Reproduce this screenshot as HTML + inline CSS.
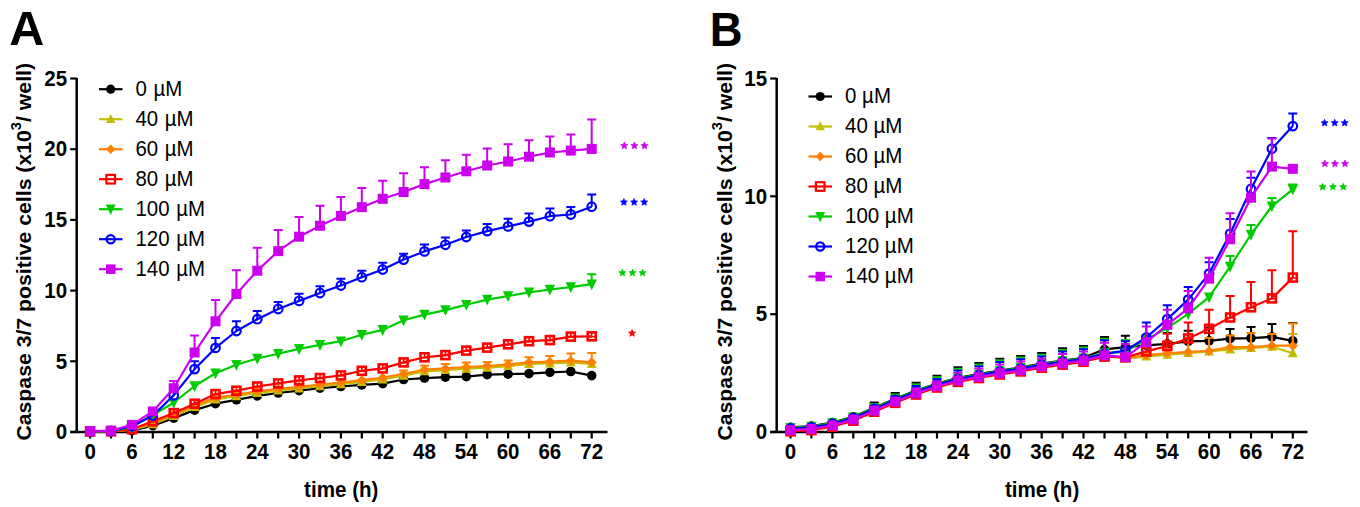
<!DOCTYPE html>
<html><head><meta charset="utf-8"><style>
html,body{margin:0;padding:0;background:#fff;}
body{width:1360px;height:507px;overflow:hidden;}
svg{display:block;}
text{font-family:"Liberation Sans",sans-serif;}
.tk{font-size:20.5px;font-weight:bold;}
.lg{font-size:20.3px;}
.ttl{font-size:20.6px;font-weight:bold;}
.big{font-size:47px;font-weight:bold;}
.ast{font-size:24px;}
</style></head><body>
<svg width="1360" height="507" viewBox="0 0 1360 507">
<path d="M76.7 78.0V433.0" stroke="#000" stroke-width="2.5" fill="none"/>
<path d="M70.2 432.0H607.5" stroke="#000" stroke-width="2.5" fill="none"/>
<path d="M70.2 432.0H76.7" stroke="#000" stroke-width="2.2"/>
<text transform="translate(67.10 439.20) scale(1 1.06)" class="tk" text-anchor="end">0</text>
<path d="M70.2 361.3H76.7" stroke="#000" stroke-width="2.2"/>
<text transform="translate(67.10 368.50) scale(1 1.06)" class="tk" text-anchor="end">5</text>
<path d="M70.2 290.6H76.7" stroke="#000" stroke-width="2.2"/>
<text transform="translate(67.10 297.80) scale(1 1.06)" class="tk" text-anchor="end">10</text>
<path d="M70.2 219.9H76.7" stroke="#000" stroke-width="2.2"/>
<text transform="translate(67.10 227.10) scale(1 1.06)" class="tk" text-anchor="end">15</text>
<path d="M70.2 149.2H76.7" stroke="#000" stroke-width="2.2"/>
<text transform="translate(67.10 156.40) scale(1 1.06)" class="tk" text-anchor="end">20</text>
<path d="M70.2 78.5H76.7" stroke="#000" stroke-width="2.2"/>
<text transform="translate(67.10 85.70) scale(1 1.06)" class="tk" text-anchor="end">25</text>
<path d="M90.1 432.0V438.5" stroke="#000" stroke-width="2.2"/>
<text transform="translate(90.10 459.30) scale(1 1.06)" class="tk" text-anchor="middle">0</text>
<path d="M111.0 432.0V438.5" stroke="#000" stroke-width="2.2"/>
<path d="M131.9 432.0V438.5" stroke="#000" stroke-width="2.2"/>
<text transform="translate(131.90 459.30) scale(1 1.06)" class="tk" text-anchor="middle">6</text>
<path d="M152.8 432.0V438.5" stroke="#000" stroke-width="2.2"/>
<path d="M173.7 432.0V438.5" stroke="#000" stroke-width="2.2"/>
<text transform="translate(173.69 459.30) scale(1 1.06)" class="tk" text-anchor="middle">12</text>
<path d="M194.6 432.0V438.5" stroke="#000" stroke-width="2.2"/>
<path d="M215.5 432.0V438.5" stroke="#000" stroke-width="2.2"/>
<text transform="translate(215.49 459.30) scale(1 1.06)" class="tk" text-anchor="middle">18</text>
<path d="M236.4 432.0V438.5" stroke="#000" stroke-width="2.2"/>
<path d="M257.3 432.0V438.5" stroke="#000" stroke-width="2.2"/>
<text transform="translate(257.28 459.30) scale(1 1.06)" class="tk" text-anchor="middle">24</text>
<path d="M278.2 432.0V438.5" stroke="#000" stroke-width="2.2"/>
<path d="M299.1 432.0V438.5" stroke="#000" stroke-width="2.2"/>
<text transform="translate(299.08 459.30) scale(1 1.06)" class="tk" text-anchor="middle">30</text>
<path d="M320.0 432.0V438.5" stroke="#000" stroke-width="2.2"/>
<path d="M340.9 432.0V438.5" stroke="#000" stroke-width="2.2"/>
<text transform="translate(340.88 459.30) scale(1 1.06)" class="tk" text-anchor="middle">36</text>
<path d="M361.8 432.0V438.5" stroke="#000" stroke-width="2.2"/>
<path d="M382.7 432.0V438.5" stroke="#000" stroke-width="2.2"/>
<text transform="translate(382.67 459.30) scale(1 1.06)" class="tk" text-anchor="middle">42</text>
<path d="M403.6 432.0V438.5" stroke="#000" stroke-width="2.2"/>
<path d="M424.5 432.0V438.5" stroke="#000" stroke-width="2.2"/>
<text transform="translate(424.47 459.30) scale(1 1.06)" class="tk" text-anchor="middle">48</text>
<path d="M445.4 432.0V438.5" stroke="#000" stroke-width="2.2"/>
<path d="M466.3 432.0V438.5" stroke="#000" stroke-width="2.2"/>
<text transform="translate(466.26 459.30) scale(1 1.06)" class="tk" text-anchor="middle">54</text>
<path d="M487.2 432.0V438.5" stroke="#000" stroke-width="2.2"/>
<path d="M508.1 432.0V438.5" stroke="#000" stroke-width="2.2"/>
<text transform="translate(508.06 459.30) scale(1 1.06)" class="tk" text-anchor="middle">60</text>
<path d="M529.0 432.0V438.5" stroke="#000" stroke-width="2.2"/>
<path d="M549.9 432.0V438.5" stroke="#000" stroke-width="2.2"/>
<text transform="translate(549.86 459.30) scale(1 1.06)" class="tk" text-anchor="middle">66</text>
<path d="M570.8 432.0V438.5" stroke="#000" stroke-width="2.2"/>
<path d="M591.7 432.0V438.5" stroke="#000" stroke-width="2.2"/>
<text transform="translate(591.65 459.30) scale(1 1.06)" class="tk" text-anchor="middle">72</text>
<g><polyline points="90.1,431.7 111.0,431.6 131.9,430.6 152.8,425.6 173.7,418.1 194.6,410.1 215.5,403.7 236.4,399.8 257.3,395.9 278.2,393.0 299.1,390.6 320.0,388.2 340.9,386.5 361.8,384.9 382.7,383.6 403.6,379.5 424.5,378.1 445.4,377.1 466.3,376.6 487.2,374.7 508.1,374.2 529.0,373.6 549.9,372.3 570.8,371.5 591.7,375.6" fill="none" stroke="#000000" stroke-width="2.2" stroke-linejoin="round"/><circle cx="90.1" cy="431.7" r="4.8" fill="#000000"/><circle cx="111.0" cy="431.6" r="4.8" fill="#000000"/><circle cx="131.9" cy="430.6" r="4.8" fill="#000000"/><circle cx="152.8" cy="425.6" r="4.8" fill="#000000"/><circle cx="173.7" cy="418.1" r="4.8" fill="#000000"/><circle cx="194.6" cy="410.1" r="4.8" fill="#000000"/><circle cx="215.5" cy="403.7" r="4.8" fill="#000000"/><circle cx="236.4" cy="399.8" r="4.8" fill="#000000"/><circle cx="257.3" cy="395.9" r="4.8" fill="#000000"/><circle cx="278.2" cy="393.0" r="4.8" fill="#000000"/><circle cx="299.1" cy="390.6" r="4.8" fill="#000000"/><circle cx="320.0" cy="388.2" r="4.8" fill="#000000"/><circle cx="340.9" cy="386.5" r="4.8" fill="#000000"/><circle cx="361.8" cy="384.9" r="4.8" fill="#000000"/><circle cx="382.7" cy="383.6" r="4.8" fill="#000000"/><circle cx="403.6" cy="379.5" r="4.8" fill="#000000"/><circle cx="424.5" cy="378.1" r="4.8" fill="#000000"/><circle cx="445.4" cy="377.1" r="4.8" fill="#000000"/><circle cx="466.3" cy="376.6" r="4.8" fill="#000000"/><circle cx="487.2" cy="374.7" r="4.8" fill="#000000"/><circle cx="508.1" cy="374.2" r="4.8" fill="#000000"/><circle cx="529.0" cy="373.6" r="4.8" fill="#000000"/><circle cx="549.9" cy="372.3" r="4.8" fill="#000000"/><circle cx="570.8" cy="371.5" r="4.8" fill="#000000"/><circle cx="591.7" cy="375.6" r="4.8" fill="#000000"/></g>
<g><polyline points="90.1,431.7 111.0,431.5 131.9,429.9 152.8,424.2 173.7,416.0 194.6,407.1 215.5,399.5 236.4,396.2 257.3,393.0 278.2,390.6 299.1,388.4 320.0,386.2 340.9,384.2 361.8,381.9 382.7,379.4 403.6,375.7 424.5,371.3 445.4,370.1 466.3,368.7 487.2,367.7 508.1,366.1 529.0,364.0 549.9,363.4 570.8,362.4 591.7,364.0" fill="none" stroke="#c0c000" stroke-width="2.2" stroke-linejoin="round"/><path d="M90.1 426.2L95.1 435.7L85.1 435.7Z" fill="#c0c000"/><path d="M111.0 426.0L116.0 435.5L106.0 435.5Z" fill="#c0c000"/><path d="M131.9 424.4L136.9 433.9L126.9 433.9Z" fill="#c0c000"/><path d="M152.8 418.7L157.8 428.2L147.8 428.2Z" fill="#c0c000"/><path d="M173.7 410.5L178.7 420.0L168.7 420.0Z" fill="#c0c000"/><path d="M194.6 401.6L199.6 411.1L189.6 411.1Z" fill="#c0c000"/><path d="M215.5 394.0L220.5 403.5L210.5 403.5Z" fill="#c0c000"/><path d="M236.4 390.7L241.4 400.2L231.4 400.2Z" fill="#c0c000"/><path d="M257.3 387.5L262.3 397.0L252.3 397.0Z" fill="#c0c000"/><path d="M278.2 385.1L283.2 394.6L273.2 394.6Z" fill="#c0c000"/><path d="M299.1 382.9L304.1 392.4L294.1 392.4Z" fill="#c0c000"/><path d="M320.0 380.7L325.0 390.2L315.0 390.2Z" fill="#c0c000"/><path d="M340.9 378.7L345.9 388.2L335.9 388.2Z" fill="#c0c000"/><path d="M361.8 376.4L366.8 385.9L356.8 385.9Z" fill="#c0c000"/><path d="M382.7 373.9L387.7 383.4L377.7 383.4Z" fill="#c0c000"/><path d="M403.6 370.2L408.6 379.7L398.6 379.7Z" fill="#c0c000"/><path d="M424.5 365.8L429.5 375.3L419.5 375.3Z" fill="#c0c000"/><path d="M445.4 364.6L450.4 374.1L440.4 374.1Z" fill="#c0c000"/><path d="M466.3 363.2L471.3 372.7L461.3 372.7Z" fill="#c0c000"/><path d="M487.2 362.2L492.2 371.7L482.2 371.7Z" fill="#c0c000"/><path d="M508.1 360.6L513.1 370.1L503.1 370.1Z" fill="#c0c000"/><path d="M529.0 358.5L534.0 368.0L524.0 368.0Z" fill="#c0c000"/><path d="M549.9 357.9L554.9 367.4L544.9 367.4Z" fill="#c0c000"/><path d="M570.8 356.9L575.8 366.4L565.8 366.4Z" fill="#c0c000"/><path d="M591.7 358.5L596.7 368.0L586.7 368.0Z" fill="#c0c000"/></g>
<g><path d="M508.1 364.4V360.5M503.6 360.5H512.6" stroke="#ff8000" stroke-width="2" fill="none"/><path d="M529.0 362.3V357.3M524.5 357.3H533.5" stroke="#ff8000" stroke-width="2" fill="none"/><path d="M549.9 361.7V356.1M545.4 356.1H554.4" stroke="#ff8000" stroke-width="2" fill="none"/><path d="M570.8 360.7V353.5M566.3 353.5H575.3" stroke="#ff8000" stroke-width="2" fill="none"/><path d="M591.7 362.3V353.1M587.2 353.1H596.2" stroke="#ff8000" stroke-width="2" fill="none"/><path d="M466.3 367.0V362.4M461.8 362.4H470.8" stroke="#ff8000" stroke-width="2" fill="none"/><path d="M487.2 366.0V362.0M482.7 362.0H491.7" stroke="#ff8000" stroke-width="2" fill="none"/><path d="M445.4 368.4V364.1M440.9 364.1H449.9" stroke="#ff8000" stroke-width="2" fill="none"/><path d="M424.5 369.6V365.5M420.0 365.5H429.0" stroke="#ff8000" stroke-width="2" fill="none"/><path d="M403.6 374.0V370.5M399.1 370.5H408.1" stroke="#ff8000" stroke-width="2" fill="none"/><polyline points="90.1,431.7 111.0,431.4 131.9,429.2 152.8,423.2 173.7,414.3 194.6,405.4 215.5,397.8 236.4,394.5 257.3,391.3 278.2,388.9 299.1,386.8 320.0,384.5 340.9,382.5 361.8,380.2 382.7,377.7 403.6,374.0 424.5,369.6 445.4,368.4 466.3,367.0 487.2,366.0 508.1,364.4 529.0,362.3 549.9,361.7 570.8,360.7 591.7,362.3" fill="none" stroke="#ff8000" stroke-width="2.2" stroke-linejoin="round"/><path d="M90.1 426.7L95.1 431.7L90.1 436.7L85.1 431.7Z" fill="#ff8000"/><path d="M111.0 426.4L116.0 431.4L111.0 436.4L106.0 431.4Z" fill="#ff8000"/><path d="M131.9 424.2L136.9 429.2L131.9 434.2L126.9 429.2Z" fill="#ff8000"/><path d="M152.8 418.2L157.8 423.2L152.8 428.2L147.8 423.2Z" fill="#ff8000"/><path d="M173.7 409.3L178.7 414.3L173.7 419.3L168.7 414.3Z" fill="#ff8000"/><path d="M194.6 400.4L199.6 405.4L194.6 410.4L189.6 405.4Z" fill="#ff8000"/><path d="M215.5 392.8L220.5 397.8L215.5 402.8L210.5 397.8Z" fill="#ff8000"/><path d="M236.4 389.5L241.4 394.5L236.4 399.5L231.4 394.5Z" fill="#ff8000"/><path d="M257.3 386.3L262.3 391.3L257.3 396.3L252.3 391.3Z" fill="#ff8000"/><path d="M278.2 383.9L283.2 388.9L278.2 393.9L273.2 388.9Z" fill="#ff8000"/><path d="M299.1 381.8L304.1 386.8L299.1 391.8L294.1 386.8Z" fill="#ff8000"/><path d="M320.0 379.5L325.0 384.5L320.0 389.5L315.0 384.5Z" fill="#ff8000"/><path d="M340.9 377.5L345.9 382.5L340.9 387.5L335.9 382.5Z" fill="#ff8000"/><path d="M361.8 375.2L366.8 380.2L361.8 385.2L356.8 380.2Z" fill="#ff8000"/><path d="M382.7 372.7L387.7 377.7L382.7 382.7L377.7 377.7Z" fill="#ff8000"/><path d="M403.6 369.0L408.6 374.0L403.6 379.0L398.6 374.0Z" fill="#ff8000"/><path d="M424.5 364.6L429.5 369.6L424.5 374.6L419.5 369.6Z" fill="#ff8000"/><path d="M445.4 363.4L450.4 368.4L445.4 373.4L440.4 368.4Z" fill="#ff8000"/><path d="M466.3 362.0L471.3 367.0L466.3 372.0L461.3 367.0Z" fill="#ff8000"/><path d="M487.2 361.0L492.2 366.0L487.2 371.0L482.2 366.0Z" fill="#ff8000"/><path d="M508.1 359.4L513.1 364.4L508.1 369.4L503.1 364.4Z" fill="#ff8000"/><path d="M529.0 357.3L534.0 362.3L529.0 367.3L524.0 362.3Z" fill="#ff8000"/><path d="M549.9 356.7L554.9 361.7L549.9 366.7L544.9 361.7Z" fill="#ff8000"/><path d="M570.8 355.7L575.8 360.7L570.8 365.7L565.8 360.7Z" fill="#ff8000"/><path d="M591.7 357.3L596.7 362.3L591.7 367.3L586.7 362.3Z" fill="#ff8000"/></g>
<g><polyline points="90.1,431.6 111.0,431.3 131.9,429.2 152.8,421.3 173.7,413.1 194.6,403.7 215.5,394.1 236.4,390.7 257.3,386.5 278.2,383.4 299.1,380.4 320.0,378.0 340.9,375.4 361.8,370.8 382.7,368.4 403.6,362.4 424.5,357.3 445.4,355.1 466.3,350.6 487.2,347.6 508.1,344.3 529.0,341.2 549.9,340.1 570.8,336.6 591.7,336.3" fill="none" stroke="#ff0000" stroke-width="2.2" stroke-linejoin="round"/><rect x="86.1" y="427.6" width="8.0" height="8.0" fill="none" stroke="#ff0000" stroke-width="2.6"/><path d="M90.1 427.6V432.0M86.1 432.0H94.1" stroke="#ff0000" stroke-width="1.6"/><rect x="107.0" y="427.3" width="8.0" height="8.0" fill="none" stroke="#ff0000" stroke-width="2.6"/><path d="M111.0 427.3V431.7M107.0 431.7H115.0" stroke="#ff0000" stroke-width="1.6"/><rect x="127.9" y="425.2" width="8.0" height="8.0" fill="none" stroke="#ff0000" stroke-width="2.6"/><path d="M131.9 425.2V429.6M127.9 429.6H135.9" stroke="#ff0000" stroke-width="1.6"/><rect x="148.8" y="417.3" width="8.0" height="8.0" fill="none" stroke="#ff0000" stroke-width="2.6"/><path d="M152.8 417.3V421.7M148.8 421.7H156.8" stroke="#ff0000" stroke-width="1.6"/><rect x="169.7" y="409.1" width="8.0" height="8.0" fill="none" stroke="#ff0000" stroke-width="2.6"/><path d="M173.7 409.1V413.5M169.7 413.5H177.7" stroke="#ff0000" stroke-width="1.6"/><rect x="190.6" y="399.7" width="8.0" height="8.0" fill="none" stroke="#ff0000" stroke-width="2.6"/><path d="M194.6 399.7V404.1M190.6 404.1H198.6" stroke="#ff0000" stroke-width="1.6"/><rect x="211.5" y="390.1" width="8.0" height="8.0" fill="none" stroke="#ff0000" stroke-width="2.6"/><path d="M215.5 390.1V394.5M211.5 394.5H219.5" stroke="#ff0000" stroke-width="1.6"/><rect x="232.4" y="386.7" width="8.0" height="8.0" fill="none" stroke="#ff0000" stroke-width="2.6"/><path d="M236.4 386.7V391.1M232.4 391.1H240.4" stroke="#ff0000" stroke-width="1.6"/><rect x="253.3" y="382.5" width="8.0" height="8.0" fill="none" stroke="#ff0000" stroke-width="2.6"/><path d="M257.3 382.5V386.9M253.3 386.9H261.3" stroke="#ff0000" stroke-width="1.6"/><rect x="274.2" y="379.4" width="8.0" height="8.0" fill="none" stroke="#ff0000" stroke-width="2.6"/><path d="M278.2 379.4V383.8M274.2 383.8H282.2" stroke="#ff0000" stroke-width="1.6"/><rect x="295.1" y="376.4" width="8.0" height="8.0" fill="none" stroke="#ff0000" stroke-width="2.6"/><path d="M299.1 376.4V380.8M295.1 380.8H303.1" stroke="#ff0000" stroke-width="1.6"/><rect x="316.0" y="374.0" width="8.0" height="8.0" fill="none" stroke="#ff0000" stroke-width="2.6"/><path d="M320.0 374.0V378.4M316.0 378.4H324.0" stroke="#ff0000" stroke-width="1.6"/><rect x="336.9" y="371.4" width="8.0" height="8.0" fill="none" stroke="#ff0000" stroke-width="2.6"/><path d="M340.9 371.4V375.8M336.9 375.8H344.9" stroke="#ff0000" stroke-width="1.6"/><rect x="357.8" y="366.8" width="8.0" height="8.0" fill="none" stroke="#ff0000" stroke-width="2.6"/><path d="M361.8 366.8V371.2M357.8 371.2H365.8" stroke="#ff0000" stroke-width="1.6"/><rect x="378.7" y="364.4" width="8.0" height="8.0" fill="none" stroke="#ff0000" stroke-width="2.6"/><path d="M382.7 364.4V368.8M378.7 368.8H386.7" stroke="#ff0000" stroke-width="1.6"/><rect x="399.6" y="358.4" width="8.0" height="8.0" fill="none" stroke="#ff0000" stroke-width="2.6"/><path d="M403.6 358.4V362.8M399.6 362.8H407.6" stroke="#ff0000" stroke-width="1.6"/><rect x="420.5" y="353.3" width="8.0" height="8.0" fill="none" stroke="#ff0000" stroke-width="2.6"/><path d="M424.5 353.3V357.7M420.5 357.7H428.5" stroke="#ff0000" stroke-width="1.6"/><rect x="441.4" y="351.1" width="8.0" height="8.0" fill="none" stroke="#ff0000" stroke-width="2.6"/><path d="M445.4 351.1V355.5M441.4 355.5H449.4" stroke="#ff0000" stroke-width="1.6"/><rect x="462.3" y="346.6" width="8.0" height="8.0" fill="none" stroke="#ff0000" stroke-width="2.6"/><path d="M466.3 346.6V351.0M462.3 351.0H470.3" stroke="#ff0000" stroke-width="1.6"/><rect x="483.2" y="343.6" width="8.0" height="8.0" fill="none" stroke="#ff0000" stroke-width="2.6"/><path d="M487.2 343.6V348.0M483.2 348.0H491.2" stroke="#ff0000" stroke-width="1.6"/><rect x="504.1" y="340.3" width="8.0" height="8.0" fill="none" stroke="#ff0000" stroke-width="2.6"/><path d="M508.1 340.3V344.7M504.1 344.7H512.1" stroke="#ff0000" stroke-width="1.6"/><rect x="525.0" y="337.2" width="8.0" height="8.0" fill="none" stroke="#ff0000" stroke-width="2.6"/><path d="M529.0 337.2V341.6M525.0 341.6H533.0" stroke="#ff0000" stroke-width="1.6"/><rect x="545.9" y="336.1" width="8.0" height="8.0" fill="none" stroke="#ff0000" stroke-width="2.6"/><path d="M549.9 336.1V340.5M545.9 340.5H553.9" stroke="#ff0000" stroke-width="1.6"/><rect x="566.8" y="332.6" width="8.0" height="8.0" fill="none" stroke="#ff0000" stroke-width="2.6"/><path d="M570.8 332.6V337.0M566.8 337.0H574.8" stroke="#ff0000" stroke-width="1.6"/><rect x="587.7" y="332.3" width="8.0" height="8.0" fill="none" stroke="#ff0000" stroke-width="2.6"/><path d="M591.7 332.3V336.7M587.7 336.7H595.7" stroke="#ff0000" stroke-width="1.6"/></g>
<g><path d="M591.7 284.2V274.2M587.2 274.2H596.2" stroke="#00cc00" stroke-width="2" fill="none"/><polyline points="90.1,431.3 111.0,430.9 131.9,427.1 152.8,415.0 173.7,402.7 194.6,386.0 215.5,373.3 236.4,364.7 257.3,358.5 278.2,353.7 299.1,348.9 320.0,344.9 340.9,341.2 361.8,334.7 382.7,329.9 403.6,320.3 424.5,314.6 445.4,310.1 466.3,304.7 487.2,299.6 508.1,296.0 529.0,292.3 549.9,289.5 570.8,287.1 591.7,284.2" fill="none" stroke="#00cc00" stroke-width="2.2" stroke-linejoin="round"/><path d="M84.9 426.5L95.3 426.5L90.1 437.3Z" fill="#00cc00"/><path d="M105.8 426.1L116.2 426.1L111.0 436.9Z" fill="#00cc00"/><path d="M126.7 422.3L137.1 422.3L131.9 433.1Z" fill="#00cc00"/><path d="M147.6 410.2L158.0 410.2L152.8 421.0Z" fill="#00cc00"/><path d="M168.5 397.9L178.9 397.9L173.7 408.7Z" fill="#00cc00"/><path d="M189.4 381.2L199.8 381.2L194.6 392.0Z" fill="#00cc00"/><path d="M210.3 368.5L220.7 368.5L215.5 379.3Z" fill="#00cc00"/><path d="M231.2 359.9L241.6 359.9L236.4 370.7Z" fill="#00cc00"/><path d="M252.1 353.7L262.5 353.7L257.3 364.5Z" fill="#00cc00"/><path d="M273.0 348.9L283.4 348.9L278.2 359.7Z" fill="#00cc00"/><path d="M293.9 344.1L304.3 344.1L299.1 354.9Z" fill="#00cc00"/><path d="M314.8 340.1L325.2 340.1L320.0 350.9Z" fill="#00cc00"/><path d="M335.7 336.4L346.1 336.4L340.9 347.2Z" fill="#00cc00"/><path d="M356.6 329.9L367.0 329.9L361.8 340.7Z" fill="#00cc00"/><path d="M377.5 325.1L387.9 325.1L382.7 335.9Z" fill="#00cc00"/><path d="M398.4 315.5L408.8 315.5L403.6 326.3Z" fill="#00cc00"/><path d="M419.3 309.8L429.7 309.8L424.5 320.6Z" fill="#00cc00"/><path d="M440.2 305.3L450.6 305.3L445.4 316.1Z" fill="#00cc00"/><path d="M461.1 299.9L471.5 299.9L466.3 310.7Z" fill="#00cc00"/><path d="M482.0 294.8L492.4 294.8L487.2 305.6Z" fill="#00cc00"/><path d="M502.9 291.2L513.3 291.2L508.1 302.0Z" fill="#00cc00"/><path d="M523.8 287.5L534.2 287.5L529.0 298.3Z" fill="#00cc00"/><path d="M544.7 284.7L555.1 284.7L549.9 295.5Z" fill="#00cc00"/><path d="M565.6 282.3L576.0 282.3L570.8 293.1Z" fill="#00cc00"/><path d="M586.5 279.4L596.9 279.4L591.7 290.2Z" fill="#00cc00"/></g>
<g><path d="M173.7 395.4V390.3M169.2 390.3H178.2" stroke="#0000ff" stroke-width="2" fill="none"/><path d="M194.6 369.1V361.3M190.1 361.3H199.1" stroke="#0000ff" stroke-width="2" fill="none"/><path d="M215.5 347.9V338.1M211.0 338.1H220.0" stroke="#0000ff" stroke-width="2" fill="none"/><path d="M236.4 331.0V321.3M231.9 321.3H240.9" stroke="#0000ff" stroke-width="2" fill="none"/><path d="M257.3 319.2V311.1M252.8 311.1H261.8" stroke="#0000ff" stroke-width="2" fill="none"/><path d="M278.2 309.0V301.9M273.7 301.9H282.7" stroke="#0000ff" stroke-width="2" fill="none"/><path d="M299.1 300.9V293.7M294.6 293.7H303.6" stroke="#0000ff" stroke-width="2" fill="none"/><path d="M320.0 293.0V286.2M315.5 286.2H324.5" stroke="#0000ff" stroke-width="2" fill="none"/><path d="M340.9 285.5V278.7M336.4 278.7H345.4" stroke="#0000ff" stroke-width="2" fill="none"/><path d="M361.8 277.2V270.8M357.3 270.8H366.3" stroke="#0000ff" stroke-width="2" fill="none"/><path d="M382.7 269.5V262.7M378.2 262.7H387.2" stroke="#0000ff" stroke-width="2" fill="none"/><path d="M403.6 259.6V253.7M399.1 253.7H408.1" stroke="#0000ff" stroke-width="2" fill="none"/><path d="M424.5 251.4V244.5M420.0 244.5H429.0" stroke="#0000ff" stroke-width="2" fill="none"/><path d="M445.4 244.8V237.6M440.9 237.6H449.9" stroke="#0000ff" stroke-width="2" fill="none"/><path d="M466.3 237.0V230.4M461.8 230.4H470.8" stroke="#0000ff" stroke-width="2" fill="none"/><path d="M487.2 231.1V224.0M482.7 224.0H491.7" stroke="#0000ff" stroke-width="2" fill="none"/><path d="M508.1 226.4V218.8M503.6 218.8H512.6" stroke="#0000ff" stroke-width="2" fill="none"/><path d="M529.0 221.6V213.4M524.5 213.4H533.5" stroke="#0000ff" stroke-width="2" fill="none"/><path d="M549.9 216.2V208.6M545.4 208.6H554.4" stroke="#0000ff" stroke-width="2" fill="none"/><path d="M570.8 214.5V207.0M566.3 207.0H575.3" stroke="#0000ff" stroke-width="2" fill="none"/><path d="M591.7 206.7V194.4M587.2 194.4H596.2" stroke="#0000ff" stroke-width="2" fill="none"/><polyline points="90.1,431.3 111.0,430.9 131.9,426.3 152.8,415.5 173.7,395.4 194.6,369.1 215.5,347.9 236.4,331.0 257.3,319.2 278.2,309.0 299.1,300.9 320.0,293.0 340.9,285.5 361.8,277.2 382.7,269.5 403.6,259.6 424.5,251.4 445.4,244.8 466.3,237.0 487.2,231.1 508.1,226.4 529.0,221.6 549.9,216.2 570.8,214.5 591.7,206.7" fill="none" stroke="#0000ff" stroke-width="2.2" stroke-linejoin="round"/><circle cx="90.1" cy="431.3" r="4.3" fill="none" stroke="#0000ff" stroke-width="2.2"/><circle cx="111.0" cy="430.9" r="4.3" fill="none" stroke="#0000ff" stroke-width="2.2"/><circle cx="131.9" cy="426.3" r="4.3" fill="none" stroke="#0000ff" stroke-width="2.2"/><circle cx="152.8" cy="415.5" r="4.3" fill="none" stroke="#0000ff" stroke-width="2.2"/><circle cx="173.7" cy="395.4" r="4.3" fill="none" stroke="#0000ff" stroke-width="2.2"/><circle cx="194.6" cy="369.1" r="4.3" fill="none" stroke="#0000ff" stroke-width="2.2"/><circle cx="215.5" cy="347.9" r="4.3" fill="none" stroke="#0000ff" stroke-width="2.2"/><circle cx="236.4" cy="331.0" r="4.3" fill="none" stroke="#0000ff" stroke-width="2.2"/><circle cx="257.3" cy="319.2" r="4.3" fill="none" stroke="#0000ff" stroke-width="2.2"/><circle cx="278.2" cy="309.0" r="4.3" fill="none" stroke="#0000ff" stroke-width="2.2"/><circle cx="299.1" cy="300.9" r="4.3" fill="none" stroke="#0000ff" stroke-width="2.2"/><circle cx="320.0" cy="293.0" r="4.3" fill="none" stroke="#0000ff" stroke-width="2.2"/><circle cx="340.9" cy="285.5" r="4.3" fill="none" stroke="#0000ff" stroke-width="2.2"/><circle cx="361.8" cy="277.2" r="4.3" fill="none" stroke="#0000ff" stroke-width="2.2"/><circle cx="382.7" cy="269.5" r="4.3" fill="none" stroke="#0000ff" stroke-width="2.2"/><circle cx="403.6" cy="259.6" r="4.3" fill="none" stroke="#0000ff" stroke-width="2.2"/><circle cx="424.5" cy="251.4" r="4.3" fill="none" stroke="#0000ff" stroke-width="2.2"/><circle cx="445.4" cy="244.8" r="4.3" fill="none" stroke="#0000ff" stroke-width="2.2"/><circle cx="466.3" cy="237.0" r="4.3" fill="none" stroke="#0000ff" stroke-width="2.2"/><circle cx="487.2" cy="231.1" r="4.3" fill="none" stroke="#0000ff" stroke-width="2.2"/><circle cx="508.1" cy="226.4" r="4.3" fill="none" stroke="#0000ff" stroke-width="2.2"/><circle cx="529.0" cy="221.6" r="4.3" fill="none" stroke="#0000ff" stroke-width="2.2"/><circle cx="549.9" cy="216.2" r="4.3" fill="none" stroke="#0000ff" stroke-width="2.2"/><circle cx="570.8" cy="214.5" r="4.3" fill="none" stroke="#0000ff" stroke-width="2.2"/><circle cx="591.7" cy="206.7" r="4.3" fill="none" stroke="#0000ff" stroke-width="2.2"/></g>
<g><path d="M152.8 411.4V409.4M148.3 409.4H157.3" stroke="#cc00ee" stroke-width="2" fill="none"/><path d="M173.7 388.2V381.1M169.2 381.1H178.2" stroke="#cc00ee" stroke-width="2" fill="none"/><path d="M194.6 352.5V335.4M190.1 335.4H199.1" stroke="#cc00ee" stroke-width="2" fill="none"/><path d="M215.5 321.3V299.9M211.0 299.9H220.0" stroke="#cc00ee" stroke-width="2" fill="none"/><path d="M236.4 294.0V270.2M231.9 270.2H240.9" stroke="#cc00ee" stroke-width="2" fill="none"/><path d="M257.3 270.7V247.8M252.8 247.8H261.8" stroke="#cc00ee" stroke-width="2" fill="none"/><path d="M278.2 251.1V229.9M273.7 229.9H282.7" stroke="#cc00ee" stroke-width="2" fill="none"/><path d="M299.1 236.7V216.9M294.6 216.9H303.6" stroke="#cc00ee" stroke-width="2" fill="none"/><path d="M320.0 225.8V205.8M315.5 205.8H324.5" stroke="#cc00ee" stroke-width="2" fill="none"/><path d="M340.9 215.9V196.9M336.4 196.9H345.4" stroke="#cc00ee" stroke-width="2" fill="none"/><path d="M361.8 207.2V188.1M357.3 188.1H366.3" stroke="#cc00ee" stroke-width="2" fill="none"/><path d="M382.7 198.8V180.7M378.2 180.7H387.2" stroke="#cc00ee" stroke-width="2" fill="none"/><path d="M403.6 192.0V173.2M399.1 173.2H408.1" stroke="#cc00ee" stroke-width="2" fill="none"/><path d="M424.5 184.1V167.2M420.0 167.2H429.0" stroke="#cc00ee" stroke-width="2" fill="none"/><path d="M445.4 177.5V160.2M440.9 160.2H449.9" stroke="#cc00ee" stroke-width="2" fill="none"/><path d="M466.3 171.3V154.7M461.8 154.7H470.8" stroke="#cc00ee" stroke-width="2" fill="none"/><path d="M487.2 165.5V148.4M482.7 148.4H491.7" stroke="#cc00ee" stroke-width="2" fill="none"/><path d="M508.1 161.5V144.3M503.6 144.3H512.6" stroke="#cc00ee" stroke-width="2" fill="none"/><path d="M529.0 156.7V140.2M524.5 140.2H533.5" stroke="#cc00ee" stroke-width="2" fill="none"/><path d="M549.9 152.5V136.5M545.4 136.5H554.4" stroke="#cc00ee" stroke-width="2" fill="none"/><path d="M570.8 150.6V134.4M566.3 134.4H575.3" stroke="#cc00ee" stroke-width="2" fill="none"/><path d="M591.7 148.9V119.5M587.2 119.5H596.2" stroke="#cc00ee" stroke-width="2" fill="none"/><polyline points="90.1,431.0 111.0,430.6 131.9,424.9 152.8,411.4 173.7,388.2 194.6,352.5 215.5,321.3 236.4,294.0 257.3,270.7 278.2,251.1 299.1,236.7 320.0,225.8 340.9,215.9 361.8,207.2 382.7,198.8 403.6,192.0 424.5,184.1 445.4,177.5 466.3,171.3 487.2,165.5 508.1,161.5 529.0,156.7 549.9,152.5 570.8,150.6 591.7,148.9" fill="none" stroke="#cc00ee" stroke-width="2.2" stroke-linejoin="round"/><rect x="85.1" y="426.0" width="10.0" height="10.0" fill="#cc00ee"/><rect x="106.0" y="425.6" width="10.0" height="10.0" fill="#cc00ee"/><rect x="126.9" y="419.9" width="10.0" height="10.0" fill="#cc00ee"/><rect x="147.8" y="406.4" width="10.0" height="10.0" fill="#cc00ee"/><rect x="168.7" y="383.2" width="10.0" height="10.0" fill="#cc00ee"/><rect x="189.6" y="347.5" width="10.0" height="10.0" fill="#cc00ee"/><rect x="210.5" y="316.3" width="10.0" height="10.0" fill="#cc00ee"/><rect x="231.4" y="289.0" width="10.0" height="10.0" fill="#cc00ee"/><rect x="252.3" y="265.7" width="10.0" height="10.0" fill="#cc00ee"/><rect x="273.2" y="246.1" width="10.0" height="10.0" fill="#cc00ee"/><rect x="294.1" y="231.7" width="10.0" height="10.0" fill="#cc00ee"/><rect x="315.0" y="220.8" width="10.0" height="10.0" fill="#cc00ee"/><rect x="335.9" y="210.9" width="10.0" height="10.0" fill="#cc00ee"/><rect x="356.8" y="202.2" width="10.0" height="10.0" fill="#cc00ee"/><rect x="377.7" y="193.8" width="10.0" height="10.0" fill="#cc00ee"/><rect x="398.6" y="187.0" width="10.0" height="10.0" fill="#cc00ee"/><rect x="419.5" y="179.1" width="10.0" height="10.0" fill="#cc00ee"/><rect x="440.4" y="172.5" width="10.0" height="10.0" fill="#cc00ee"/><rect x="461.3" y="166.3" width="10.0" height="10.0" fill="#cc00ee"/><rect x="482.2" y="160.5" width="10.0" height="10.0" fill="#cc00ee"/><rect x="503.1" y="156.5" width="10.0" height="10.0" fill="#cc00ee"/><rect x="524.0" y="151.7" width="10.0" height="10.0" fill="#cc00ee"/><rect x="544.9" y="147.5" width="10.0" height="10.0" fill="#cc00ee"/><rect x="565.8" y="145.6" width="10.0" height="10.0" fill="#cc00ee"/><rect x="586.7" y="143.9" width="10.0" height="10.0" fill="#cc00ee"/></g>
<path d="M776.7 78.0V433.0" stroke="#000" stroke-width="2.5" fill="none"/>
<path d="M770.2 432.0H1307.5" stroke="#000" stroke-width="2.5" fill="none"/>
<path d="M770.2 432.0H776.7" stroke="#000" stroke-width="2.2"/>
<text transform="translate(767.10 439.20) scale(1 1.06)" class="tk" text-anchor="end">0</text>
<path d="M770.2 314.2H776.7" stroke="#000" stroke-width="2.2"/>
<text transform="translate(767.10 321.37) scale(1 1.06)" class="tk" text-anchor="end">5</text>
<path d="M770.2 196.3H776.7" stroke="#000" stroke-width="2.2"/>
<text transform="translate(767.10 203.53) scale(1 1.06)" class="tk" text-anchor="end">10</text>
<path d="M770.2 78.5H776.7" stroke="#000" stroke-width="2.2"/>
<text transform="translate(767.10 85.70) scale(1 1.06)" class="tk" text-anchor="end">15</text>
<path d="M790.5 432.0V438.5" stroke="#000" stroke-width="2.2"/>
<text transform="translate(790.50 459.30) scale(1 1.06)" class="tk" text-anchor="middle">0</text>
<path d="M811.4 432.0V438.5" stroke="#000" stroke-width="2.2"/>
<path d="M832.4 432.0V438.5" stroke="#000" stroke-width="2.2"/>
<text transform="translate(832.36 459.30) scale(1 1.06)" class="tk" text-anchor="middle">6</text>
<path d="M853.3 432.0V438.5" stroke="#000" stroke-width="2.2"/>
<path d="M874.2 432.0V438.5" stroke="#000" stroke-width="2.2"/>
<text transform="translate(874.22 459.30) scale(1 1.06)" class="tk" text-anchor="middle">12</text>
<path d="M895.2 432.0V438.5" stroke="#000" stroke-width="2.2"/>
<path d="M916.1 432.0V438.5" stroke="#000" stroke-width="2.2"/>
<text transform="translate(916.09 459.30) scale(1 1.06)" class="tk" text-anchor="middle">18</text>
<path d="M937.0 432.0V438.5" stroke="#000" stroke-width="2.2"/>
<path d="M957.9 432.0V438.5" stroke="#000" stroke-width="2.2"/>
<text transform="translate(957.95 459.30) scale(1 1.06)" class="tk" text-anchor="middle">24</text>
<path d="M978.9 432.0V438.5" stroke="#000" stroke-width="2.2"/>
<path d="M999.8 432.0V438.5" stroke="#000" stroke-width="2.2"/>
<text transform="translate(999.81 459.30) scale(1 1.06)" class="tk" text-anchor="middle">30</text>
<path d="M1020.7 432.0V438.5" stroke="#000" stroke-width="2.2"/>
<path d="M1041.7 432.0V438.5" stroke="#000" stroke-width="2.2"/>
<text transform="translate(1041.67 459.30) scale(1 1.06)" class="tk" text-anchor="middle">36</text>
<path d="M1062.6 432.0V438.5" stroke="#000" stroke-width="2.2"/>
<path d="M1083.5 432.0V438.5" stroke="#000" stroke-width="2.2"/>
<text transform="translate(1083.53 459.30) scale(1 1.06)" class="tk" text-anchor="middle">42</text>
<path d="M1104.5 432.0V438.5" stroke="#000" stroke-width="2.2"/>
<path d="M1125.4 432.0V438.5" stroke="#000" stroke-width="2.2"/>
<text transform="translate(1125.40 459.30) scale(1 1.06)" class="tk" text-anchor="middle">48</text>
<path d="M1146.3 432.0V438.5" stroke="#000" stroke-width="2.2"/>
<path d="M1167.3 432.0V438.5" stroke="#000" stroke-width="2.2"/>
<text transform="translate(1167.26 459.30) scale(1 1.06)" class="tk" text-anchor="middle">54</text>
<path d="M1188.2 432.0V438.5" stroke="#000" stroke-width="2.2"/>
<path d="M1209.1 432.0V438.5" stroke="#000" stroke-width="2.2"/>
<text transform="translate(1209.12 459.30) scale(1 1.06)" class="tk" text-anchor="middle">60</text>
<path d="M1230.1 432.0V438.5" stroke="#000" stroke-width="2.2"/>
<path d="M1251.0 432.0V438.5" stroke="#000" stroke-width="2.2"/>
<text transform="translate(1250.98 459.30) scale(1 1.06)" class="tk" text-anchor="middle">66</text>
<path d="M1271.9 432.0V438.5" stroke="#000" stroke-width="2.2"/>
<path d="M1292.8 432.0V438.5" stroke="#000" stroke-width="2.2"/>
<text transform="translate(1292.84 459.30) scale(1 1.06)" class="tk" text-anchor="middle">72</text>
<g><path d="M895.2 398.8V392.9M890.7 392.9H899.7" stroke="#000000" stroke-width="2" fill="none"/><path d="M916.1 390.5V382.7M911.6 382.7H920.6" stroke="#000000" stroke-width="2" fill="none"/><path d="M937.0 383.5V375.7M932.5 375.7H941.5" stroke="#000000" stroke-width="2" fill="none"/><path d="M957.9 377.8V367.2M953.4 367.2H962.4" stroke="#000000" stroke-width="2" fill="none"/><path d="M978.9 374.0V362.9M974.4 362.9H983.4" stroke="#000000" stroke-width="2" fill="none"/><path d="M999.8 370.5V358.7M995.3 358.7H1004.3" stroke="#000000" stroke-width="2" fill="none"/><path d="M1020.7 367.4V355.9M1016.2 355.9H1025.2" stroke="#000000" stroke-width="2" fill="none"/><path d="M1041.7 363.7V353.1M1037.2 353.1H1046.2" stroke="#000000" stroke-width="2" fill="none"/><path d="M1062.6 360.6V348.3M1058.1 348.3H1067.1" stroke="#000000" stroke-width="2" fill="none"/><path d="M1083.5 357.8V346.0M1079.0 346.0H1088.0" stroke="#000000" stroke-width="2" fill="none"/><path d="M1104.5 349.3V337.0M1100.0 337.0H1109.0" stroke="#000000" stroke-width="2" fill="none"/><path d="M1125.4 347.2V335.8M1120.9 335.8H1129.9" stroke="#000000" stroke-width="2" fill="none"/><path d="M1146.3 345.3V335.4M1141.8 335.4H1150.8" stroke="#000000" stroke-width="2" fill="none"/><path d="M1167.3 343.9V333.0M1162.8 333.0H1171.8" stroke="#000000" stroke-width="2" fill="none"/><path d="M1188.2 341.3V330.7M1183.7 330.7H1192.7" stroke="#000000" stroke-width="2" fill="none"/><path d="M1209.1 340.8V327.6M1204.6 327.6H1213.6" stroke="#000000" stroke-width="2" fill="none"/><path d="M1230.1 338.7V329.0M1225.6 329.0H1234.6" stroke="#000000" stroke-width="2" fill="none"/><path d="M1251.0 338.2V327.1M1246.5 327.1H1255.5" stroke="#000000" stroke-width="2" fill="none"/><path d="M1271.9 336.8V324.1M1267.4 324.1H1276.4" stroke="#000000" stroke-width="2" fill="none"/><path d="M1292.8 340.8V322.9M1288.3 322.9H1297.3" stroke="#000000" stroke-width="2" fill="none"/><path d="M874.2 407.7V402.5M869.7 402.5H878.7" stroke="#000000" stroke-width="2" fill="none"/><path d="M853.3 416.7V415.0M848.8 415.0H857.8" stroke="#000000" stroke-width="2" fill="none"/><polyline points="790.5,427.3 811.4,426.1 832.4,422.6 853.3,416.7 874.2,407.7 895.2,398.8 916.1,390.5 937.0,383.5 957.9,377.8 978.9,374.0 999.8,370.5 1020.7,367.4 1041.7,363.7 1062.6,360.6 1083.5,357.8 1104.5,349.3 1125.4,347.2 1146.3,345.3 1167.3,343.9 1188.2,341.3 1209.1,340.8 1230.1,338.7 1251.0,338.2 1271.9,336.8 1292.8,340.8" fill="none" stroke="#000000" stroke-width="2.2" stroke-linejoin="round"/><circle cx="790.5" cy="427.3" r="4.8" fill="#000000"/><circle cx="811.4" cy="426.1" r="4.8" fill="#000000"/><circle cx="832.4" cy="422.6" r="4.8" fill="#000000"/><circle cx="853.3" cy="416.7" r="4.8" fill="#000000"/><circle cx="874.2" cy="407.7" r="4.8" fill="#000000"/><circle cx="895.2" cy="398.8" r="4.8" fill="#000000"/><circle cx="916.1" cy="390.5" r="4.8" fill="#000000"/><circle cx="937.0" cy="383.5" r="4.8" fill="#000000"/><circle cx="957.9" cy="377.8" r="4.8" fill="#000000"/><circle cx="978.9" cy="374.0" r="4.8" fill="#000000"/><circle cx="999.8" cy="370.5" r="4.8" fill="#000000"/><circle cx="1020.7" cy="367.4" r="4.8" fill="#000000"/><circle cx="1041.7" cy="363.7" r="4.8" fill="#000000"/><circle cx="1062.6" cy="360.6" r="4.8" fill="#000000"/><circle cx="1083.5" cy="357.8" r="4.8" fill="#000000"/><circle cx="1104.5" cy="349.3" r="4.8" fill="#000000"/><circle cx="1125.4" cy="347.2" r="4.8" fill="#000000"/><circle cx="1146.3" cy="345.3" r="4.8" fill="#000000"/><circle cx="1167.3" cy="343.9" r="4.8" fill="#000000"/><circle cx="1188.2" cy="341.3" r="4.8" fill="#000000"/><circle cx="1209.1" cy="340.8" r="4.8" fill="#000000"/><circle cx="1230.1" cy="338.7" r="4.8" fill="#000000"/><circle cx="1251.0" cy="338.2" r="4.8" fill="#000000"/><circle cx="1271.9" cy="336.8" r="4.8" fill="#000000"/><circle cx="1292.8" cy="340.8" r="4.8" fill="#000000"/></g>
<g><path d="M1292.8 353.3V334.0M1288.3 334.0H1297.3" stroke="#c0c000" stroke-width="2" fill="none"/><polyline points="790.5,430.1 811.4,428.9 832.4,425.4 853.3,419.5 874.2,410.6 895.2,401.6 916.1,393.4 937.0,386.3 957.9,380.6 978.9,376.9 999.8,373.3 1020.7,370.3 1041.7,366.5 1062.6,363.4 1083.5,360.6 1104.5,355.4 1125.4,358.5 1146.3,356.6 1167.3,354.7 1188.2,353.1 1209.1,351.4 1230.1,349.5 1251.0,347.9 1271.9,346.7 1292.8,353.3" fill="none" stroke="#c0c000" stroke-width="2.2" stroke-linejoin="round"/><path d="M790.5 424.6L795.5 434.1L785.5 434.1Z" fill="#c0c000"/><path d="M811.4 423.4L816.4 432.9L806.4 432.9Z" fill="#c0c000"/><path d="M832.4 419.9L837.4 429.4L827.4 429.4Z" fill="#c0c000"/><path d="M853.3 414.0L858.3 423.5L848.3 423.5Z" fill="#c0c000"/><path d="M874.2 405.1L879.2 414.6L869.2 414.6Z" fill="#c0c000"/><path d="M895.2 396.1L900.2 405.6L890.2 405.6Z" fill="#c0c000"/><path d="M916.1 387.9L921.1 397.4L911.1 397.4Z" fill="#c0c000"/><path d="M937.0 380.8L942.0 390.3L932.0 390.3Z" fill="#c0c000"/><path d="M957.9 375.1L962.9 384.6L952.9 384.6Z" fill="#c0c000"/><path d="M978.9 371.4L983.9 380.9L973.9 380.9Z" fill="#c0c000"/><path d="M999.8 367.8L1004.8 377.3L994.8 377.3Z" fill="#c0c000"/><path d="M1020.7 364.8L1025.7 374.3L1015.7 374.3Z" fill="#c0c000"/><path d="M1041.7 361.0L1046.7 370.5L1036.7 370.5Z" fill="#c0c000"/><path d="M1062.6 357.9L1067.6 367.4L1057.6 367.4Z" fill="#c0c000"/><path d="M1083.5 355.1L1088.5 364.6L1078.5 364.6Z" fill="#c0c000"/><path d="M1104.5 349.9L1109.5 359.4L1099.5 359.4Z" fill="#c0c000"/><path d="M1125.4 353.0L1130.4 362.5L1120.4 362.5Z" fill="#c0c000"/><path d="M1146.3 351.1L1151.3 360.6L1141.3 360.6Z" fill="#c0c000"/><path d="M1167.3 349.2L1172.3 358.7L1162.3 358.7Z" fill="#c0c000"/><path d="M1188.2 347.6L1193.2 357.1L1183.2 357.1Z" fill="#c0c000"/><path d="M1209.1 345.9L1214.1 355.4L1204.1 355.4Z" fill="#c0c000"/><path d="M1230.1 344.0L1235.1 353.5L1225.1 353.5Z" fill="#c0c000"/><path d="M1251.0 342.4L1256.0 351.9L1246.0 351.9Z" fill="#c0c000"/><path d="M1271.9 341.2L1276.9 350.7L1266.9 350.7Z" fill="#c0c000"/><path d="M1292.8 347.8L1297.8 357.3L1287.8 357.3Z" fill="#c0c000"/></g>
<g><path d="M1146.3 355.2V343.6M1141.8 343.6H1150.8" stroke="#ff8000" stroke-width="2" fill="none"/><path d="M1167.3 353.3V341.3M1162.8 341.3H1171.8" stroke="#ff8000" stroke-width="2" fill="none"/><path d="M1188.2 351.9V338.0M1183.7 338.0H1192.7" stroke="#ff8000" stroke-width="2" fill="none"/><path d="M1209.1 350.9V338.0M1204.6 338.0H1213.6" stroke="#ff8000" stroke-width="2" fill="none"/><path d="M1230.1 347.2V335.4M1225.6 335.4H1234.6" stroke="#ff8000" stroke-width="2" fill="none"/><path d="M1251.0 347.2V333.0M1246.5 333.0H1255.5" stroke="#ff8000" stroke-width="2" fill="none"/><path d="M1271.9 345.7V334.0M1267.4 334.0H1276.4" stroke="#ff8000" stroke-width="2" fill="none"/><path d="M1292.8 345.7V323.6M1288.3 323.6H1297.3" stroke="#ff8000" stroke-width="2" fill="none"/><polyline points="790.5,429.6 811.4,428.5 832.4,424.9 853.3,419.0 874.2,410.1 895.2,401.1 916.1,392.9 937.0,385.8 957.9,380.2 978.9,376.4 999.8,372.8 1020.7,369.8 1041.7,366.0 1062.6,362.9 1083.5,360.1 1104.5,354.9 1125.4,357.8 1146.3,355.2 1167.3,353.3 1188.2,351.9 1209.1,350.9 1230.1,347.2 1251.0,347.2 1271.9,345.7 1292.8,345.7" fill="none" stroke="#ff8000" stroke-width="2.2" stroke-linejoin="round"/><path d="M790.5 424.6L795.5 429.6L790.5 434.6L785.5 429.6Z" fill="#ff8000"/><path d="M811.4 423.5L816.4 428.5L811.4 433.5L806.4 428.5Z" fill="#ff8000"/><path d="M832.4 419.9L837.4 424.9L832.4 429.9L827.4 424.9Z" fill="#ff8000"/><path d="M853.3 414.0L858.3 419.0L853.3 424.0L848.3 419.0Z" fill="#ff8000"/><path d="M874.2 405.1L879.2 410.1L874.2 415.1L869.2 410.1Z" fill="#ff8000"/><path d="M895.2 396.1L900.2 401.1L895.2 406.1L890.2 401.1Z" fill="#ff8000"/><path d="M916.1 387.9L921.1 392.9L916.1 397.9L911.1 392.9Z" fill="#ff8000"/><path d="M937.0 380.8L942.0 385.8L937.0 390.8L932.0 385.8Z" fill="#ff8000"/><path d="M957.9 375.2L962.9 380.2L957.9 385.2L952.9 380.2Z" fill="#ff8000"/><path d="M978.9 371.4L983.9 376.4L978.9 381.4L973.9 376.4Z" fill="#ff8000"/><path d="M999.8 367.8L1004.8 372.8L999.8 377.8L994.8 372.8Z" fill="#ff8000"/><path d="M1020.7 364.8L1025.7 369.8L1020.7 374.8L1015.7 369.8Z" fill="#ff8000"/><path d="M1041.7 361.0L1046.7 366.0L1041.7 371.0L1036.7 366.0Z" fill="#ff8000"/><path d="M1062.6 357.9L1067.6 362.9L1062.6 367.9L1057.6 362.9Z" fill="#ff8000"/><path d="M1083.5 355.1L1088.5 360.1L1083.5 365.1L1078.5 360.1Z" fill="#ff8000"/><path d="M1104.5 349.9L1109.5 354.9L1104.5 359.9L1099.5 354.9Z" fill="#ff8000"/><path d="M1125.4 352.8L1130.4 357.8L1125.4 362.8L1120.4 357.8Z" fill="#ff8000"/><path d="M1146.3 350.2L1151.3 355.2L1146.3 360.2L1141.3 355.2Z" fill="#ff8000"/><path d="M1167.3 348.3L1172.3 353.3L1167.3 358.3L1162.3 353.3Z" fill="#ff8000"/><path d="M1188.2 346.9L1193.2 351.9L1188.2 356.9L1183.2 351.9Z" fill="#ff8000"/><path d="M1209.1 345.9L1214.1 350.9L1209.1 355.9L1204.1 350.9Z" fill="#ff8000"/><path d="M1230.1 342.2L1235.1 347.2L1230.1 352.2L1225.1 347.2Z" fill="#ff8000"/><path d="M1251.0 342.2L1256.0 347.2L1251.0 352.2L1246.0 347.2Z" fill="#ff8000"/><path d="M1271.9 340.7L1276.9 345.7L1271.9 350.7L1266.9 345.7Z" fill="#ff8000"/><path d="M1292.8 340.7L1297.8 345.7L1292.8 350.7L1287.8 345.7Z" fill="#ff8000"/></g>
<g><path d="M1167.3 346.0V333.7M1162.8 333.7H1171.8" stroke="#ff0000" stroke-width="2" fill="none"/><path d="M1188.2 338.4V322.4M1183.7 322.4H1192.7" stroke="#ff0000" stroke-width="2" fill="none"/><path d="M1209.1 328.8V309.7M1204.6 309.7H1213.6" stroke="#ff0000" stroke-width="2" fill="none"/><path d="M1230.1 317.5V296.0M1225.6 296.0H1234.6" stroke="#ff0000" stroke-width="2" fill="none"/><path d="M1251.0 307.3V282.1M1246.5 282.1H1255.5" stroke="#ff0000" stroke-width="2" fill="none"/><path d="M1271.9 298.4V270.3M1267.4 270.3H1276.4" stroke="#ff0000" stroke-width="2" fill="none"/><path d="M1292.8 277.6V231.2M1288.3 231.2H1297.3" stroke="#ff0000" stroke-width="2" fill="none"/><polyline points="790.5,431.3 811.4,430.1 832.4,426.6 853.3,420.7 874.2,411.7 895.2,402.8 916.1,394.5 937.0,387.5 957.9,381.8 978.9,378.0 999.8,374.5 1020.7,371.4 1041.7,367.7 1062.6,364.6 1083.5,361.8 1104.5,356.6 1125.4,357.3 1146.3,351.4 1167.3,346.0 1188.2,338.4 1209.1,328.8 1230.1,317.5 1251.0,307.3 1271.9,298.4 1292.8,277.6" fill="none" stroke="#ff0000" stroke-width="2.2" stroke-linejoin="round"/><rect x="786.5" y="427.3" width="8.0" height="8.0" fill="none" stroke="#ff0000" stroke-width="2.6"/><path d="M790.5 427.3V431.7M786.5 431.7H794.5" stroke="#ff0000" stroke-width="1.6"/><rect x="807.4" y="426.1" width="8.0" height="8.0" fill="none" stroke="#ff0000" stroke-width="2.6"/><path d="M811.4 426.1V430.5M807.4 430.5H815.4" stroke="#ff0000" stroke-width="1.6"/><rect x="828.4" y="422.6" width="8.0" height="8.0" fill="none" stroke="#ff0000" stroke-width="2.6"/><path d="M832.4 422.6V427.0M828.4 427.0H836.4" stroke="#ff0000" stroke-width="1.6"/><rect x="849.3" y="416.7" width="8.0" height="8.0" fill="none" stroke="#ff0000" stroke-width="2.6"/><path d="M853.3 416.7V421.1M849.3 421.1H857.3" stroke="#ff0000" stroke-width="1.6"/><rect x="870.2" y="407.7" width="8.0" height="8.0" fill="none" stroke="#ff0000" stroke-width="2.6"/><path d="M874.2 407.7V412.1M870.2 412.1H878.2" stroke="#ff0000" stroke-width="1.6"/><rect x="891.2" y="398.8" width="8.0" height="8.0" fill="none" stroke="#ff0000" stroke-width="2.6"/><path d="M895.2 398.8V403.2M891.2 403.2H899.2" stroke="#ff0000" stroke-width="1.6"/><rect x="912.1" y="390.5" width="8.0" height="8.0" fill="none" stroke="#ff0000" stroke-width="2.6"/><path d="M916.1 390.5V394.9M912.1 394.9H920.1" stroke="#ff0000" stroke-width="1.6"/><rect x="933.0" y="383.5" width="8.0" height="8.0" fill="none" stroke="#ff0000" stroke-width="2.6"/><path d="M937.0 383.5V387.9M933.0 387.9H941.0" stroke="#ff0000" stroke-width="1.6"/><rect x="953.9" y="377.8" width="8.0" height="8.0" fill="none" stroke="#ff0000" stroke-width="2.6"/><path d="M957.9 377.8V382.2M953.9 382.2H961.9" stroke="#ff0000" stroke-width="1.6"/><rect x="974.9" y="374.0" width="8.0" height="8.0" fill="none" stroke="#ff0000" stroke-width="2.6"/><path d="M978.9 374.0V378.4M974.9 378.4H982.9" stroke="#ff0000" stroke-width="1.6"/><rect x="995.8" y="370.5" width="8.0" height="8.0" fill="none" stroke="#ff0000" stroke-width="2.6"/><path d="M999.8 370.5V374.9M995.8 374.9H1003.8" stroke="#ff0000" stroke-width="1.6"/><rect x="1016.7" y="367.4" width="8.0" height="8.0" fill="none" stroke="#ff0000" stroke-width="2.6"/><path d="M1020.7 367.4V371.8M1016.7 371.8H1024.7" stroke="#ff0000" stroke-width="1.6"/><rect x="1037.7" y="363.7" width="8.0" height="8.0" fill="none" stroke="#ff0000" stroke-width="2.6"/><path d="M1041.7 363.7V368.1M1037.7 368.1H1045.7" stroke="#ff0000" stroke-width="1.6"/><rect x="1058.6" y="360.6" width="8.0" height="8.0" fill="none" stroke="#ff0000" stroke-width="2.6"/><path d="M1062.6 360.6V365.0M1058.6 365.0H1066.6" stroke="#ff0000" stroke-width="1.6"/><rect x="1079.5" y="357.8" width="8.0" height="8.0" fill="none" stroke="#ff0000" stroke-width="2.6"/><path d="M1083.5 357.8V362.2M1079.5 362.2H1087.5" stroke="#ff0000" stroke-width="1.6"/><rect x="1100.5" y="352.6" width="8.0" height="8.0" fill="none" stroke="#ff0000" stroke-width="2.6"/><path d="M1104.5 352.6V357.0M1100.5 357.0H1108.5" stroke="#ff0000" stroke-width="1.6"/><rect x="1121.4" y="353.3" width="8.0" height="8.0" fill="none" stroke="#ff0000" stroke-width="2.6"/><path d="M1125.4 353.3V357.7M1121.4 357.7H1129.4" stroke="#ff0000" stroke-width="1.6"/><rect x="1142.3" y="347.4" width="8.0" height="8.0" fill="none" stroke="#ff0000" stroke-width="2.6"/><path d="M1146.3 347.4V351.8M1142.3 351.8H1150.3" stroke="#ff0000" stroke-width="1.6"/><rect x="1163.3" y="342.0" width="8.0" height="8.0" fill="none" stroke="#ff0000" stroke-width="2.6"/><path d="M1167.3 342.0V346.4M1163.3 346.4H1171.3" stroke="#ff0000" stroke-width="1.6"/><rect x="1184.2" y="334.4" width="8.0" height="8.0" fill="none" stroke="#ff0000" stroke-width="2.6"/><path d="M1188.2 334.4V338.8M1184.2 338.8H1192.2" stroke="#ff0000" stroke-width="1.6"/><rect x="1205.1" y="324.8" width="8.0" height="8.0" fill="none" stroke="#ff0000" stroke-width="2.6"/><path d="M1209.1 324.8V329.2M1205.1 329.2H1213.1" stroke="#ff0000" stroke-width="1.6"/><rect x="1226.1" y="313.5" width="8.0" height="8.0" fill="none" stroke="#ff0000" stroke-width="2.6"/><path d="M1230.1 313.5V317.9M1226.1 317.9H1234.1" stroke="#ff0000" stroke-width="1.6"/><rect x="1247.0" y="303.3" width="8.0" height="8.0" fill="none" stroke="#ff0000" stroke-width="2.6"/><path d="M1251.0 303.3V307.7M1247.0 307.7H1255.0" stroke="#ff0000" stroke-width="1.6"/><rect x="1267.9" y="294.4" width="8.0" height="8.0" fill="none" stroke="#ff0000" stroke-width="2.6"/><path d="M1271.9 294.4V298.8M1267.9 298.8H1275.9" stroke="#ff0000" stroke-width="1.6"/><rect x="1288.8" y="273.6" width="8.0" height="8.0" fill="none" stroke="#ff0000" stroke-width="2.6"/><path d="M1292.8 273.6V278.0M1288.8 278.0H1296.8" stroke="#ff0000" stroke-width="1.6"/></g>
<g><path d="M1104.5 353.1V338.7M1100.0 338.7H1109.0" stroke="#00cc00" stroke-width="2" fill="none"/><path d="M1125.4 351.9V340.1M1120.9 340.1H1129.9" stroke="#00cc00" stroke-width="2" fill="none"/><path d="M1230.1 266.6V256.0M1225.6 256.0H1234.6" stroke="#00cc00" stroke-width="2" fill="none"/><path d="M1251.0 234.5V225.1M1246.5 225.1H1255.5" stroke="#00cc00" stroke-width="2" fill="none"/><path d="M1271.9 206.2V198.0M1267.4 198.0H1276.4" stroke="#00cc00" stroke-width="2" fill="none"/><path d="M1292.8 189.3V184.6M1288.3 184.6H1297.3" stroke="#00cc00" stroke-width="2" fill="none"/><path d="M853.3 417.2V416.7M848.8 416.7H857.8" stroke="#00cc00" stroke-width="2" fill="none"/><path d="M874.2 408.2V404.2M869.7 404.2H878.7" stroke="#00cc00" stroke-width="2" fill="none"/><path d="M895.2 399.2V394.5M890.7 394.5H899.7" stroke="#00cc00" stroke-width="2" fill="none"/><path d="M916.1 391.0V384.4M911.6 384.4H920.6" stroke="#00cc00" stroke-width="2" fill="none"/><path d="M937.0 383.9V377.3M932.5 377.3H941.5" stroke="#00cc00" stroke-width="2" fill="none"/><path d="M957.9 378.3V368.8M953.4 368.8H962.4" stroke="#00cc00" stroke-width="2" fill="none"/><path d="M978.9 374.5V364.6M974.4 364.6H983.4" stroke="#00cc00" stroke-width="2" fill="none"/><path d="M999.8 371.0V360.4M995.3 360.4H1004.3" stroke="#00cc00" stroke-width="2" fill="none"/><path d="M1020.7 367.9V357.5M1016.2 357.5H1025.2" stroke="#00cc00" stroke-width="2" fill="none"/><path d="M1041.7 364.1V354.7M1037.2 354.7H1046.2" stroke="#00cc00" stroke-width="2" fill="none"/><path d="M1062.6 361.1V350.0M1058.1 350.0H1067.1" stroke="#00cc00" stroke-width="2" fill="none"/><path d="M1083.5 358.2V347.6M1079.0 347.6H1088.0" stroke="#00cc00" stroke-width="2" fill="none"/><polyline points="790.5,427.8 811.4,426.6 832.4,423.0 853.3,417.2 874.2,408.2 895.2,399.2 916.1,391.0 937.0,383.9 957.9,378.3 978.9,374.5 999.8,371.0 1020.7,367.9 1041.7,364.1 1062.6,361.1 1083.5,358.2 1104.5,353.1 1125.4,351.9 1146.3,339.4 1167.3,328.1 1188.2,313.9 1209.1,297.2 1230.1,266.6 1251.0,234.5 1271.9,206.2 1292.8,189.3" fill="none" stroke="#00cc00" stroke-width="2.2" stroke-linejoin="round"/><path d="M785.3 423.0L795.7 423.0L790.5 433.8Z" fill="#00cc00"/><path d="M806.2 421.8L816.6 421.8L811.4 432.6Z" fill="#00cc00"/><path d="M827.2 418.2L837.6 418.2L832.4 429.0Z" fill="#00cc00"/><path d="M848.1 412.4L858.5 412.4L853.3 423.2Z" fill="#00cc00"/><path d="M869.0 403.4L879.4 403.4L874.2 414.2Z" fill="#00cc00"/><path d="M890.0 394.4L900.4 394.4L895.2 405.2Z" fill="#00cc00"/><path d="M910.9 386.2L921.3 386.2L916.1 397.0Z" fill="#00cc00"/><path d="M931.8 379.1L942.2 379.1L937.0 389.9Z" fill="#00cc00"/><path d="M952.7 373.5L963.1 373.5L957.9 384.3Z" fill="#00cc00"/><path d="M973.7 369.7L984.1 369.7L978.9 380.5Z" fill="#00cc00"/><path d="M994.6 366.2L1005.0 366.2L999.8 377.0Z" fill="#00cc00"/><path d="M1015.5 363.1L1025.9 363.1L1020.7 373.9Z" fill="#00cc00"/><path d="M1036.5 359.3L1046.9 359.3L1041.7 370.1Z" fill="#00cc00"/><path d="M1057.4 356.3L1067.8 356.3L1062.6 367.1Z" fill="#00cc00"/><path d="M1078.3 353.4L1088.7 353.4L1083.5 364.2Z" fill="#00cc00"/><path d="M1099.3 348.3L1109.7 348.3L1104.5 359.1Z" fill="#00cc00"/><path d="M1120.2 347.1L1130.6 347.1L1125.4 357.9Z" fill="#00cc00"/><path d="M1141.1 334.6L1151.5 334.6L1146.3 345.4Z" fill="#00cc00"/><path d="M1162.1 323.3L1172.5 323.3L1167.3 334.1Z" fill="#00cc00"/><path d="M1183.0 309.1L1193.4 309.1L1188.2 319.9Z" fill="#00cc00"/><path d="M1203.9 292.4L1214.3 292.4L1209.1 303.2Z" fill="#00cc00"/><path d="M1224.9 261.8L1235.3 261.8L1230.1 272.6Z" fill="#00cc00"/><path d="M1245.8 229.7L1256.2 229.7L1251.0 240.5Z" fill="#00cc00"/><path d="M1266.7 201.4L1277.1 201.4L1271.9 212.2Z" fill="#00cc00"/><path d="M1287.6 184.5L1298.0 184.5L1292.8 195.3Z" fill="#00cc00"/></g>
<g><path d="M1125.4 350.7V341.3M1120.9 341.3H1129.9" stroke="#0000ff" stroke-width="2" fill="none"/><path d="M1146.3 337.5V322.4M1141.8 322.4H1150.8" stroke="#0000ff" stroke-width="2" fill="none"/><path d="M1167.3 319.1V305.2M1162.8 305.2H1171.8" stroke="#0000ff" stroke-width="2" fill="none"/><path d="M1188.2 299.6V287.1M1183.7 287.1H1192.7" stroke="#0000ff" stroke-width="2" fill="none"/><path d="M1209.1 273.6V262.3M1204.6 262.3H1213.6" stroke="#0000ff" stroke-width="2" fill="none"/><path d="M1230.1 233.8V219.0M1225.6 219.0H1234.6" stroke="#0000ff" stroke-width="2" fill="none"/><path d="M1251.0 189.0V177.7M1246.5 177.7H1255.5" stroke="#0000ff" stroke-width="2" fill="none"/><path d="M1271.9 148.7V137.9M1267.4 137.9H1276.4" stroke="#0000ff" stroke-width="2" fill="none"/><path d="M1292.8 126.1V113.4M1288.3 113.4H1297.3" stroke="#0000ff" stroke-width="2" fill="none"/><path d="M853.3 417.9V418.3M848.8 418.3H857.8" stroke="#0000ff" stroke-width="2" fill="none"/><path d="M874.2 408.9V405.8M869.7 405.8H878.7" stroke="#0000ff" stroke-width="2" fill="none"/><path d="M895.2 399.9V396.2M890.7 396.2H899.7" stroke="#0000ff" stroke-width="2" fill="none"/><path d="M916.1 391.7V386.0M911.6 386.0H920.6" stroke="#0000ff" stroke-width="2" fill="none"/><path d="M937.0 384.6V379.0M932.5 379.0H941.5" stroke="#0000ff" stroke-width="2" fill="none"/><path d="M957.9 379.0V370.5M953.4 370.5H962.4" stroke="#0000ff" stroke-width="2" fill="none"/><path d="M978.9 375.2V366.2M974.4 366.2H983.4" stroke="#0000ff" stroke-width="2" fill="none"/><path d="M999.8 371.7V362.0M995.3 362.0H1004.3" stroke="#0000ff" stroke-width="2" fill="none"/><path d="M1020.7 368.6V359.2M1016.2 359.2H1025.2" stroke="#0000ff" stroke-width="2" fill="none"/><path d="M1041.7 364.8V356.4M1037.2 356.4H1046.2" stroke="#0000ff" stroke-width="2" fill="none"/><path d="M1062.6 361.8V351.6M1058.1 351.6H1067.1" stroke="#0000ff" stroke-width="2" fill="none"/><path d="M1083.5 358.9V349.3M1079.0 349.3H1088.0" stroke="#0000ff" stroke-width="2" fill="none"/><path d="M1104.5 353.8V340.3M1100.0 340.3H1109.0" stroke="#0000ff" stroke-width="2" fill="none"/><polyline points="790.5,428.5 811.4,427.3 832.4,423.8 853.3,417.9 874.2,408.9 895.2,399.9 916.1,391.7 937.0,384.6 957.9,379.0 978.9,375.2 999.8,371.7 1020.7,368.6 1041.7,364.8 1062.6,361.8 1083.5,358.9 1104.5,353.8 1125.4,350.7 1146.3,337.5 1167.3,319.1 1188.2,299.6 1209.1,273.6 1230.1,233.8 1251.0,189.0 1271.9,148.7 1292.8,126.1" fill="none" stroke="#0000ff" stroke-width="2.2" stroke-linejoin="round"/><circle cx="790.5" cy="428.5" r="4.3" fill="none" stroke="#0000ff" stroke-width="2.2"/><circle cx="811.4" cy="427.3" r="4.3" fill="none" stroke="#0000ff" stroke-width="2.2"/><circle cx="832.4" cy="423.8" r="4.3" fill="none" stroke="#0000ff" stroke-width="2.2"/><circle cx="853.3" cy="417.9" r="4.3" fill="none" stroke="#0000ff" stroke-width="2.2"/><circle cx="874.2" cy="408.9" r="4.3" fill="none" stroke="#0000ff" stroke-width="2.2"/><circle cx="895.2" cy="399.9" r="4.3" fill="none" stroke="#0000ff" stroke-width="2.2"/><circle cx="916.1" cy="391.7" r="4.3" fill="none" stroke="#0000ff" stroke-width="2.2"/><circle cx="937.0" cy="384.6" r="4.3" fill="none" stroke="#0000ff" stroke-width="2.2"/><circle cx="957.9" cy="379.0" r="4.3" fill="none" stroke="#0000ff" stroke-width="2.2"/><circle cx="978.9" cy="375.2" r="4.3" fill="none" stroke="#0000ff" stroke-width="2.2"/><circle cx="999.8" cy="371.7" r="4.3" fill="none" stroke="#0000ff" stroke-width="2.2"/><circle cx="1020.7" cy="368.6" r="4.3" fill="none" stroke="#0000ff" stroke-width="2.2"/><circle cx="1041.7" cy="364.8" r="4.3" fill="none" stroke="#0000ff" stroke-width="2.2"/><circle cx="1062.6" cy="361.8" r="4.3" fill="none" stroke="#0000ff" stroke-width="2.2"/><circle cx="1083.5" cy="358.9" r="4.3" fill="none" stroke="#0000ff" stroke-width="2.2"/><circle cx="1104.5" cy="353.8" r="4.3" fill="none" stroke="#0000ff" stroke-width="2.2"/><circle cx="1125.4" cy="350.7" r="4.3" fill="none" stroke="#0000ff" stroke-width="2.2"/><circle cx="1146.3" cy="337.5" r="4.3" fill="none" stroke="#0000ff" stroke-width="2.2"/><circle cx="1167.3" cy="319.1" r="4.3" fill="none" stroke="#0000ff" stroke-width="2.2"/><circle cx="1188.2" cy="299.6" r="4.3" fill="none" stroke="#0000ff" stroke-width="2.2"/><circle cx="1209.1" cy="273.6" r="4.3" fill="none" stroke="#0000ff" stroke-width="2.2"/><circle cx="1230.1" cy="233.8" r="4.3" fill="none" stroke="#0000ff" stroke-width="2.2"/><circle cx="1251.0" cy="189.0" r="4.3" fill="none" stroke="#0000ff" stroke-width="2.2"/><circle cx="1271.9" cy="148.7" r="4.3" fill="none" stroke="#0000ff" stroke-width="2.2"/><circle cx="1292.8" cy="126.1" r="4.3" fill="none" stroke="#0000ff" stroke-width="2.2"/></g>
<g><path d="M1125.4 357.1V343.9M1120.9 343.9H1129.9" stroke="#cc00ee" stroke-width="2" fill="none"/><path d="M1146.3 342.2V326.4M1141.8 326.4H1150.8" stroke="#cc00ee" stroke-width="2" fill="none"/><path d="M1167.3 324.8V309.7M1162.8 309.7H1171.8" stroke="#cc00ee" stroke-width="2" fill="none"/><path d="M1188.2 308.3V291.1M1183.7 291.1H1192.7" stroke="#cc00ee" stroke-width="2" fill="none"/><path d="M1209.1 278.6V257.8M1204.6 257.8H1213.6" stroke="#cc00ee" stroke-width="2" fill="none"/><path d="M1230.1 239.2V213.3M1225.6 213.3H1234.6" stroke="#cc00ee" stroke-width="2" fill="none"/><path d="M1251.0 197.7V171.4M1246.5 171.4H1255.5" stroke="#cc00ee" stroke-width="2" fill="none"/><path d="M1271.9 166.6V138.4M1267.4 138.4H1276.4" stroke="#cc00ee" stroke-width="2" fill="none"/><path d="M1292.8 168.8V165.7M1288.3 165.7H1297.3" stroke="#cc00ee" stroke-width="2" fill="none"/><path d="M853.3 419.5V417.2M848.8 417.2H857.8" stroke="#cc00ee" stroke-width="2" fill="none"/><path d="M874.2 410.6V408.2M869.7 408.2H878.7" stroke="#cc00ee" stroke-width="2" fill="none"/><path d="M895.2 401.6V398.5M890.7 398.5H899.7" stroke="#cc00ee" stroke-width="2" fill="none"/><path d="M916.1 393.4V388.4M911.6 388.4H920.6" stroke="#cc00ee" stroke-width="2" fill="none"/><path d="M937.0 386.3V381.3M932.5 381.3H941.5" stroke="#cc00ee" stroke-width="2" fill="none"/><path d="M957.9 380.6V372.8M953.4 372.8H962.4" stroke="#cc00ee" stroke-width="2" fill="none"/><path d="M978.9 376.9V368.6M974.4 368.6H983.4" stroke="#cc00ee" stroke-width="2" fill="none"/><path d="M999.8 373.3V364.4M995.3 364.4H1004.3" stroke="#cc00ee" stroke-width="2" fill="none"/><path d="M1020.7 370.3V361.5M1016.2 361.5H1025.2" stroke="#cc00ee" stroke-width="2" fill="none"/><path d="M1041.7 366.5V358.7M1037.2 358.7H1046.2" stroke="#cc00ee" stroke-width="2" fill="none"/><path d="M1062.6 363.4V354.0M1058.1 354.0H1067.1" stroke="#cc00ee" stroke-width="2" fill="none"/><path d="M1083.5 360.6V351.6M1079.0 351.6H1088.0" stroke="#cc00ee" stroke-width="2" fill="none"/><path d="M1104.5 355.4V342.7M1100.0 342.7H1109.0" stroke="#cc00ee" stroke-width="2" fill="none"/><polyline points="790.5,430.1 811.4,428.9 832.4,425.4 853.3,419.5 874.2,410.6 895.2,401.6 916.1,393.4 937.0,386.3 957.9,380.6 978.9,376.9 999.8,373.3 1020.7,370.3 1041.7,366.5 1062.6,363.4 1083.5,360.6 1104.5,355.4 1125.4,357.1 1146.3,342.2 1167.3,324.8 1188.2,308.3 1209.1,278.6 1230.1,239.2 1251.0,197.7 1271.9,166.6 1292.8,168.8" fill="none" stroke="#cc00ee" stroke-width="2.2" stroke-linejoin="round"/><rect x="785.5" y="425.1" width="10.0" height="10.0" fill="#cc00ee"/><rect x="806.4" y="423.9" width="10.0" height="10.0" fill="#cc00ee"/><rect x="827.4" y="420.4" width="10.0" height="10.0" fill="#cc00ee"/><rect x="848.3" y="414.5" width="10.0" height="10.0" fill="#cc00ee"/><rect x="869.2" y="405.6" width="10.0" height="10.0" fill="#cc00ee"/><rect x="890.2" y="396.6" width="10.0" height="10.0" fill="#cc00ee"/><rect x="911.1" y="388.4" width="10.0" height="10.0" fill="#cc00ee"/><rect x="932.0" y="381.3" width="10.0" height="10.0" fill="#cc00ee"/><rect x="952.9" y="375.6" width="10.0" height="10.0" fill="#cc00ee"/><rect x="973.9" y="371.9" width="10.0" height="10.0" fill="#cc00ee"/><rect x="994.8" y="368.3" width="10.0" height="10.0" fill="#cc00ee"/><rect x="1015.7" y="365.3" width="10.0" height="10.0" fill="#cc00ee"/><rect x="1036.7" y="361.5" width="10.0" height="10.0" fill="#cc00ee"/><rect x="1057.6" y="358.4" width="10.0" height="10.0" fill="#cc00ee"/><rect x="1078.5" y="355.6" width="10.0" height="10.0" fill="#cc00ee"/><rect x="1099.5" y="350.4" width="10.0" height="10.0" fill="#cc00ee"/><rect x="1120.4" y="352.1" width="10.0" height="10.0" fill="#cc00ee"/><rect x="1141.3" y="337.2" width="10.0" height="10.0" fill="#cc00ee"/><rect x="1162.3" y="319.8" width="10.0" height="10.0" fill="#cc00ee"/><rect x="1183.2" y="303.3" width="10.0" height="10.0" fill="#cc00ee"/><rect x="1204.1" y="273.6" width="10.0" height="10.0" fill="#cc00ee"/><rect x="1225.1" y="234.2" width="10.0" height="10.0" fill="#cc00ee"/><rect x="1246.0" y="192.7" width="10.0" height="10.0" fill="#cc00ee"/><rect x="1266.9" y="161.6" width="10.0" height="10.0" fill="#cc00ee"/><rect x="1287.8" y="163.8" width="10.0" height="10.0" fill="#cc00ee"/></g>
<path d="M99.0 89.2H122.5" stroke="#000000" stroke-width="2.2"/>
<circle cx="110.7" cy="89.2" r="4.6" fill="#000000"/>
<text transform="translate(135.50 96.00) scale(1 1.06)" class="lg" style="font-size:20.4px;word-spacing:1px">0 µM</text>
<path d="M99.0 119.2H122.5" stroke="#c0c000" stroke-width="2.2"/>
<path d="M110.7 114.0L115.5 123.0L106.0 123.0Z" fill="#c0c000"/>
<text transform="translate(135.50 126.00) scale(1 1.06)" class="lg" style="font-size:20.4px;word-spacing:1px">40 µM</text>
<path d="M99.0 149.2H122.5" stroke="#ff8000" stroke-width="2.2"/>
<path d="M110.7 144.4L115.5 149.2L110.7 153.9L106.0 149.2Z" fill="#ff8000"/>
<text transform="translate(135.50 156.00) scale(1 1.06)" class="lg" style="font-size:20.4px;word-spacing:1px">60 µM</text>
<path d="M99.0 179.2H122.5" stroke="#ff0000" stroke-width="2.2"/>
<rect x="106.4" y="174.9" width="8.6" height="8.6" fill="none" stroke="#ff0000" stroke-width="2.2"/>
<text transform="translate(135.50 186.00) scale(1 1.06)" class="lg" style="font-size:20.4px;word-spacing:1px">80 µM</text>
<path d="M99.0 209.2H122.5" stroke="#00cc00" stroke-width="2.2"/>
<path d="M105.8 204.6L115.6 204.6L110.7 214.9Z" fill="#00cc00"/>
<text transform="translate(135.50 216.00) scale(1 1.06)" class="lg" style="font-size:20.4px;word-spacing:1px">100 µM</text>
<path d="M99.0 239.2H122.5" stroke="#0000ff" stroke-width="2.2"/>
<circle cx="110.7" cy="239.2" r="4.1" fill="none" stroke="#0000ff" stroke-width="2.2"/>
<text transform="translate(135.50 246.00) scale(1 1.06)" class="lg" style="font-size:20.4px;word-spacing:1px">120 µM</text>
<path d="M99.0 269.2H122.5" stroke="#cc00ee" stroke-width="2.2"/>
<rect x="106.0" y="264.4" width="9.5" height="9.5" fill="#cc00ee"/>
<text transform="translate(135.50 276.00) scale(1 1.06)" class="lg" style="font-size:20.4px;word-spacing:1px">140 µM</text>
<path d="M808.5 96.5H832.0" stroke="#000000" stroke-width="2.2"/>
<circle cx="820.2" cy="96.5" r="4.6" fill="#000000"/>
<text transform="translate(845.00 103.30) scale(1 1.06)" class="lg" style="font-size:20.5px">0 µM</text>
<path d="M808.5 126.5H832.0" stroke="#c0c000" stroke-width="2.2"/>
<path d="M820.2 121.3L825.0 130.3L815.5 130.3Z" fill="#c0c000"/>
<text transform="translate(845.00 133.30) scale(1 1.06)" class="lg" style="font-size:20.5px">40 µM</text>
<path d="M808.5 156.5H832.0" stroke="#ff8000" stroke-width="2.2"/>
<path d="M820.2 151.8L825.0 156.5L820.2 161.2L815.5 156.5Z" fill="#ff8000"/>
<text transform="translate(845.00 163.30) scale(1 1.06)" class="lg" style="font-size:20.5px">60 µM</text>
<path d="M808.5 186.5H832.0" stroke="#ff0000" stroke-width="2.2"/>
<rect x="815.9" y="182.2" width="8.6" height="8.6" fill="none" stroke="#ff0000" stroke-width="2.2"/>
<text transform="translate(845.00 193.30) scale(1 1.06)" class="lg" style="font-size:20.5px">80 µM</text>
<path d="M808.5 216.5H832.0" stroke="#00cc00" stroke-width="2.2"/>
<path d="M815.3 211.9L825.1 211.9L820.2 222.2Z" fill="#00cc00"/>
<text transform="translate(845.00 223.30) scale(1 1.06)" class="lg" style="font-size:20.5px">100 µM</text>
<path d="M808.5 246.5H832.0" stroke="#0000ff" stroke-width="2.2"/>
<circle cx="820.2" cy="246.5" r="4.1" fill="none" stroke="#0000ff" stroke-width="2.2"/>
<text transform="translate(845.00 253.30) scale(1 1.06)" class="lg" style="font-size:20.5px">120 µM</text>
<path d="M808.5 276.5H832.0" stroke="#cc00ee" stroke-width="2.2"/>
<rect x="815.5" y="271.8" width="9.5" height="9.5" fill="#cc00ee"/>
<text transform="translate(845.00 283.30) scale(1 1.06)" class="lg" style="font-size:20.5px">140 µM</text>
<polygon points="624.30,141.96 625.33,144.35 627.91,144.59 625.96,146.30 626.53,148.84 624.30,147.51 622.07,148.84 622.64,146.30 620.69,144.59 623.27,144.35" fill="#cc00ee" stroke="#cc00ee" stroke-width="0.6" stroke-linejoin="round"/>
<polygon points="634.40,141.96 635.43,144.35 638.01,144.59 636.06,146.30 636.63,148.84 634.40,147.51 632.17,148.84 632.74,146.30 630.79,144.59 633.37,144.35" fill="#cc00ee" stroke="#cc00ee" stroke-width="0.6" stroke-linejoin="round"/>
<polygon points="644.50,141.96 645.53,144.35 648.11,144.59 646.16,146.30 646.73,148.84 644.50,147.51 642.27,148.84 642.84,146.30 640.89,144.59 643.47,144.35" fill="#cc00ee" stroke="#cc00ee" stroke-width="0.6" stroke-linejoin="round"/>
<polygon points="623.90,198.46 624.93,200.85 627.51,201.09 625.56,202.80 626.13,205.34 623.90,204.01 621.67,205.34 622.24,202.80 620.29,201.09 622.87,200.85" fill="#0000ff" stroke="#0000ff" stroke-width="0.6" stroke-linejoin="round"/>
<polygon points="634.10,198.46 635.13,200.85 637.71,201.09 635.76,202.80 636.33,205.34 634.10,204.01 631.87,205.34 632.44,202.80 630.49,201.09 633.07,200.85" fill="#0000ff" stroke="#0000ff" stroke-width="0.6" stroke-linejoin="round"/>
<polygon points="644.20,198.46 645.23,200.85 647.81,201.09 645.86,202.80 646.43,205.34 644.20,204.01 641.97,205.34 642.54,202.80 640.59,201.09 643.17,200.85" fill="#0000ff" stroke="#0000ff" stroke-width="0.6" stroke-linejoin="round"/>
<polygon points="622.40,269.06 623.43,271.45 626.01,271.69 624.06,273.40 624.63,275.94 622.40,274.61 620.17,275.94 620.74,273.40 618.79,271.69 621.37,271.45" fill="#00cc00" stroke="#00cc00" stroke-width="0.6" stroke-linejoin="round"/>
<polygon points="632.50,269.06 633.53,271.45 636.11,271.69 634.16,273.40 634.73,275.94 632.50,274.61 630.27,275.94 630.84,273.40 628.89,271.69 631.47,271.45" fill="#00cc00" stroke="#00cc00" stroke-width="0.6" stroke-linejoin="round"/>
<polygon points="642.60,269.06 643.63,271.45 646.21,271.69 644.26,273.40 644.83,275.94 642.60,274.61 640.37,275.94 640.94,273.40 638.99,271.69 641.57,271.45" fill="#00cc00" stroke="#00cc00" stroke-width="0.6" stroke-linejoin="round"/>
<polygon points="632.10,329.46 633.13,331.85 635.71,332.09 633.76,333.80 634.33,336.34 632.10,335.01 629.87,336.34 630.44,333.80 628.49,332.09 631.07,331.85" fill="#ff0000" stroke="#ff0000" stroke-width="0.6" stroke-linejoin="round"/>
<polygon points="1324.60,119.16 1325.63,121.55 1328.21,121.79 1326.26,123.50 1326.83,126.04 1324.60,124.71 1322.37,126.04 1322.94,123.50 1320.99,121.79 1323.57,121.55" fill="#0000ff" stroke="#0000ff" stroke-width="0.6" stroke-linejoin="round"/>
<polygon points="1334.70,119.16 1335.73,121.55 1338.31,121.79 1336.36,123.50 1336.93,126.04 1334.70,124.71 1332.47,126.04 1333.04,123.50 1331.09,121.79 1333.67,121.55" fill="#0000ff" stroke="#0000ff" stroke-width="0.6" stroke-linejoin="round"/>
<polygon points="1344.70,119.16 1345.73,121.55 1348.31,121.79 1346.36,123.50 1346.93,126.04 1344.70,124.71 1342.47,126.04 1343.04,123.50 1341.09,121.79 1343.67,121.55" fill="#0000ff" stroke="#0000ff" stroke-width="0.6" stroke-linejoin="round"/>
<polygon points="1324.90,159.96 1325.93,162.35 1328.51,162.59 1326.56,164.30 1327.13,166.84 1324.90,165.51 1322.67,166.84 1323.24,164.30 1321.29,162.59 1323.87,162.35" fill="#cc00ee" stroke="#cc00ee" stroke-width="0.6" stroke-linejoin="round"/>
<polygon points="1334.90,159.96 1335.93,162.35 1338.51,162.59 1336.56,164.30 1337.13,166.84 1334.90,165.51 1332.67,166.84 1333.24,164.30 1331.29,162.59 1333.87,162.35" fill="#cc00ee" stroke="#cc00ee" stroke-width="0.6" stroke-linejoin="round"/>
<polygon points="1345.00,159.96 1346.03,162.35 1348.61,162.59 1346.66,164.30 1347.23,166.84 1345.00,165.51 1342.77,166.84 1343.34,164.30 1341.39,162.59 1343.97,162.35" fill="#cc00ee" stroke="#cc00ee" stroke-width="0.6" stroke-linejoin="round"/>
<polygon points="1322.60,183.16 1323.63,185.55 1326.21,185.79 1324.26,187.50 1324.83,190.04 1322.60,188.71 1320.37,190.04 1320.94,187.50 1318.99,185.79 1321.57,185.55" fill="#00cc00" stroke="#00cc00" stroke-width="0.6" stroke-linejoin="round"/>
<polygon points="1332.90,183.16 1333.93,185.55 1336.51,185.79 1334.56,187.50 1335.13,190.04 1332.90,188.71 1330.67,190.04 1331.24,187.50 1329.29,185.79 1331.87,185.55" fill="#00cc00" stroke="#00cc00" stroke-width="0.6" stroke-linejoin="round"/>
<polygon points="1343.20,183.16 1344.23,185.55 1346.81,185.79 1344.86,187.50 1345.43,190.04 1343.20,188.71 1340.97,190.04 1341.54,187.50 1339.59,185.79 1342.17,185.55" fill="#00cc00" stroke="#00cc00" stroke-width="0.6" stroke-linejoin="round"/>
<text transform="translate(9.20 44.70) scale(1 1.0)" class="big" style="font-size:48.5px">A</text>
<text transform="translate(709.80 45.70) scale(1 1.07)" class="big" style="font-size:45.5px">B</text>
<text transform="translate(341.30 497.40) scale(1 1.06)" class="ttl" text-anchor="middle">time (h)</text>
<text transform="translate(1042.10 497.40) scale(1 1.06)" class="ttl" text-anchor="middle">time (h)</text>
<text transform="translate(31.3,251.8) scale(1 1.012) rotate(-90)" class="ttl" style="font-size:21px" text-anchor="middle">Caspase 3/7 positive cells (x10<tspan dy="-10" font-size="14.5">3</tspan><tspan dy="10">/ well)</tspan></text>
<text transform="translate(731.9,251.8) scale(1 1.012) rotate(-90)" class="ttl" style="font-size:21px" text-anchor="middle">Caspase 3/7 positive cells (x10<tspan dy="-10" font-size="14.5">3</tspan><tspan dy="10">/ well)</tspan></text>
</svg>
</body></html>
